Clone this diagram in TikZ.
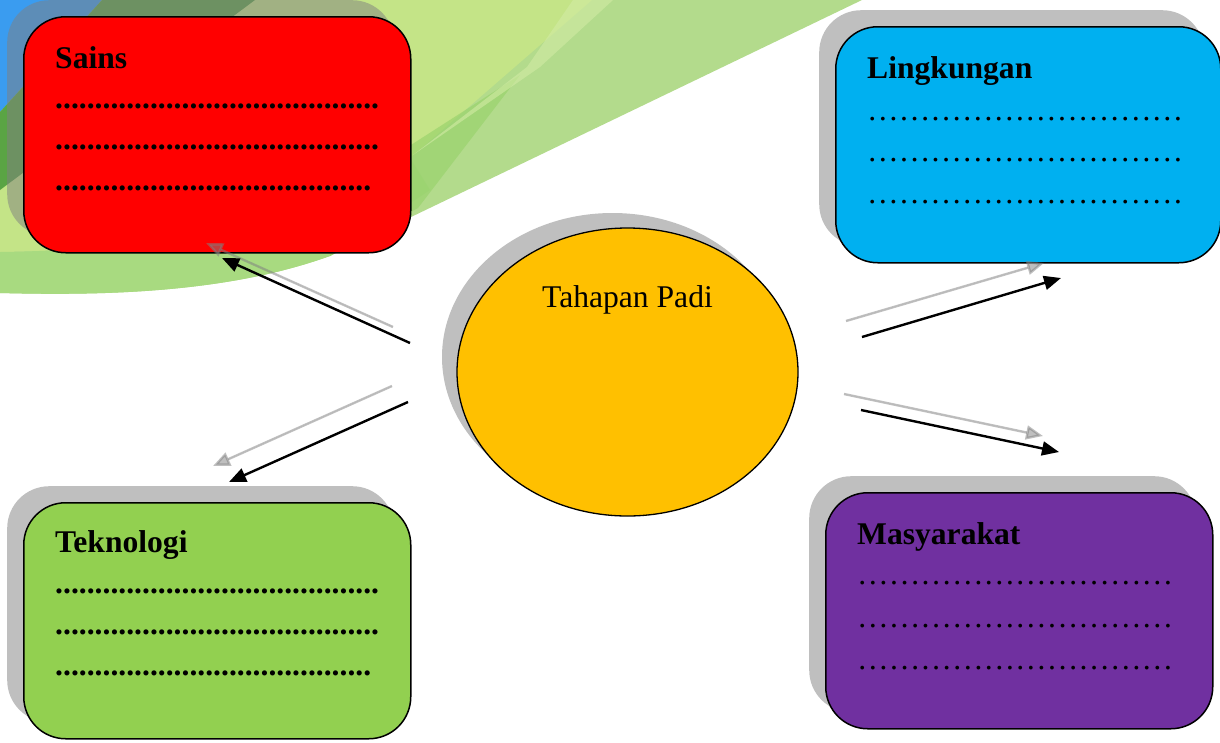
\documentclass[tikz,border=0pt]{standalone}
\usepackage{fontspec}
\setmainfont{Liberation Serif}
\usetikzlibrary{arrows.meta,shapes.geometric}

\definecolor{sainsred}{HTML}{FF0000}
\definecolor{lingblue}{HTML}{00B0F0}
\definecolor{teknogreen}{HTML}{92D050}
\definecolor{masypurple}{HTML}{7030A0}
\definecolor{padiyellow}{HTML}{FFC000}
\definecolor{bgbase}{HTML}{B3DB8C}
\definecolor{bglight}{HTML}{C4E487}
\definecolor{bgstripe}{HTML}{D2EBA4}
\definecolor{bgdeep}{HTML}{95D168}
\definecolor{bgblue}{HTML}{3A9CF0}
\definecolor{bgdark}{HTML}{5AA444}
\definecolor{bglow}{HTML}{A8DA80}

\def\periodsA{.........................................}
\def\periodsB{........................................}
\def\ellipsesA{…………………………}

\begin{document}
\begin{tikzpicture}[x=1pt,y=-1pt,
  card/.style={draw=black, line width=1.5pt, rounded corners=42pt,
    minimum width=387pt, minimum height=236pt, anchor=north west, inner sep=0pt},
  cardshadow/.style={fill=gray, fill opacity=0.5, draw=none, rounded corners=42pt,
    minimum width=387pt, minimum height=236pt, anchor=north west, inner sep=0pt},
  title/.style={font=\fontsize{31.6}{38}\selectfont\bfseries, anchor=base west, inner sep=0pt},
  dotrow/.style={font=\fontsize{31.6}{38}\selectfont\bfseries, anchor=base west, inner sep=0pt},
  ellrow/.style={font=\fontsize{31.6}{38}\selectfont, anchor=base west, inner sep=0pt},
  conn/.style={line width=2.4pt, -{Triangle[length=17pt,width=14pt]}},
  connshadow/.style={conn, draw=gray, fill=gray, opacity=0.5}
]
\useasboundingbox (0,0) rectangle (1220,742);
\clip (0,0) rectangle (1220,742);

% ---------- background swoosh ----------
\fill[bgbase] (0,0) -- (862,0) -- (330,256) .. controls (230,292) and (110,296) .. (0,293) -- cycle;
\fill[bglight] (0,0) -- (592,0) -- (410,158) .. controls (300,228) and (150,250) .. (0,252) -- cycle;
\fill[bglow] (0,252) .. controls (150,250) and (300,228) .. (410,158) -- (430,190)
   -- (330,256) .. controls (230,292) and (110,296) .. (0,293) -- cycle;
\fill[bgdeep, opacity=0.6] (400,152) -- (520,75) -- (418,208) -- (330,256) -- (330,215) -- cycle;
\fill[bgstripe, opacity=0.6] (573,0) -- (613,0) -- (540,67) -- (413,155) -- (527,67) -- cycle;
\fill[bgblue] (0,0) -- (102,0) -- (0,112) -- cycle;
\fill[bgdark] (102,0) -- (255,0) -- (0,190) -- (0,112) -- cycle;

% ---------- shadows ----------
\node[cardshadow] (sainsS) at (7,0) {};
\node[cardshadow, minimum width=385pt] (lingS) at (819,10) {};
\node[cardshadow] (teknoS) at (7,486) {};
\node[cardshadow] (masyS) at (809,476) {};
\node[ellipse, fill=gray, fill opacity=0.5, minimum width=341pt, minimum height=288pt, inner sep=0pt] (padiS) at (612.5,357) {};

% ---------- cards ----------
\node[card, fill=sainsred] (sains) at (23,16) {};
\node[card, fill=lingblue, minimum width=385pt] (ling) at (835,26) {};
\node[card, fill=teknogreen] (tekno) at (23,502) {};
\node[card, fill=masypurple] (masy) at (825,492) {};
\node[ellipse, draw=black, line width=1.3pt, fill=padiyellow, minimum width=341pt, minimum height=288pt, inner sep=0pt] (padi) at (627.5,372) {};

% ---------- texts ----------
\node[title] (sainsT) at (55,68) {Sains};
\node[dotrow] (sainsD1) at (55,108) {\periodsA};
\node[dotrow] (sainsD2) at (55,149) {\periodsA};
\node[dotrow] (sainsD3) at (55,190) {\periodsB};

\node[title] (lingT) at (867,78) {Lingkungan};
\node[ellrow] (lingD1) at (867,120) {\ellipsesA};
\node[ellrow] (lingD2) at (867,161) {\ellipsesA};
\node[ellrow] (lingD3) at (867,203) {\ellipsesA};

\node[title] (teknoT) at (55,552) {Teknologi};
\node[dotrow] (teknoD1) at (55,593) {\periodsA};
\node[dotrow] (teknoD2) at (55,634) {\periodsA};
\node[dotrow] (teknoD3) at (55,675) {\periodsB};

\node[title] (masyT) at (857,544) {Masyarakat};
\node[ellrow] (masyD1) at (857,584) {\ellipsesA};
\node[ellrow] (masyD2) at (857,627) {\ellipsesA};
\node[ellrow] (masyD3) at (857,669) {\ellipsesA};

\node[font=\fontsize{31.6}{38}\selectfont, anchor=base, inner sep=0pt] (padiT) at (627.5,307) {Tahapan Padi};

% ---------- connectors ----------
\coordinate (ulS) at (393,327);  \coordinate (ulSe) at (206,243);
\coordinate (ul)  at (410,343);  \coordinate (ule)  at (222,258);
\coordinate (llS) at (392,386);  \coordinate (llSe) at (213,466);
\coordinate (ll)  at (408,402);  \coordinate (lle)  at (229,482);
\coordinate (urS) at (846,321);  \coordinate (urSe) at (1044,263);
\coordinate (ur)  at (862,337);  \coordinate (ure)  at (1061,278);
\coordinate (lrS) at (844,394);  \coordinate (lrSe) at (1043,436);
\coordinate (lr)  at (861,410);  \coordinate (lre)  at (1059,452);

\draw[connshadow] (ulS) -- (ulSe);
\draw[connshadow] (llS) -- (llSe);
\draw[connshadow] (urS) -- (urSe);
\draw[connshadow] (lrS) -- (lrSe);
\draw[conn] (ul) -- (ule);
\draw[conn] (ll) -- (lle);
\draw[conn] (ur) -- (ure);
\draw[conn] (lr) -- (lre);
\end{tikzpicture}
\end{document}
